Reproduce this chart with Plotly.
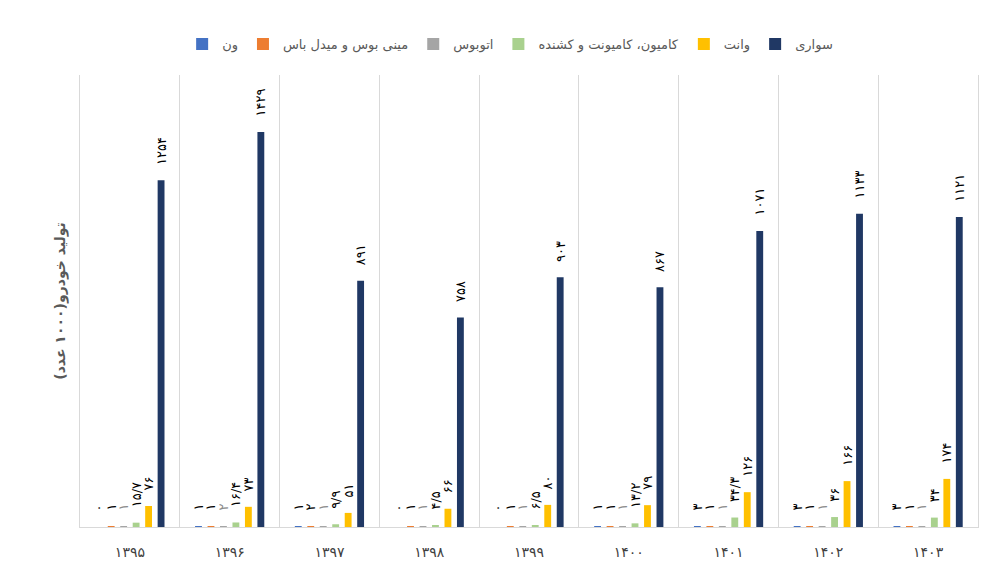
import plotly.graph_objects as go

years = ["1395", "1396", "1397", "1398", "1399", "1400", "1401", "1402", "1403"]

series_names = ["ون", "مینی بوس و میدل باس", "اتوبوس", "کامیون، کامیونت و کشنده", "وانت", "سواری"]
van = [0, 1, 1, 0, 0, 1, 3, 3, 3]
minibus = [1, 1, 2, 1, 1, 1, 1, 1, 1]
bus = [1, 2, 1, 1, 1, 1, 1, 1, 1]
truck = [15.7, 16.4, 9.9, 4.5, 6.5, 13.2, 34.3, 36, 34]
pickup = [76, 73, 51, 66, 80, 79, 126, 166, 174]
car = [1254, 1429, 891, 758, 903, 867, 1071, 1133, 1121]

colors = ["#4472C4", "#ED7D31", "#A5A5A5", "#A9D18E", "#FFC000", "#203864"]
label_colors = ["#000000", "#000000", "#8C8C8C", "#000000", "#000000", "#000000"]

FA = str.maketrans("0123456789.", "۰۱۲۳۴۵۶۷۸۹/")
PAD = "\u00a0\u00a0\u00a0"


def fa(v):
    s = ("%g" % v)
    return s.translate(FA)


cats = [fa(int(y)) for y in years]

fig = go.Figure()
for name, vals, col, lcol in zip(series_names, [van, minibus, bus, truck, pickup, car], colors, label_colors):
    fig.add_trace(go.Bar(
        x=cats, y=vals, name=name,
        marker=dict(color=col, line=dict(width=0)),
        text=[PAD + fa(v) for v in vals],
        textposition="outside",
        textangle=-90,
        constraintext="none",
        textfont=dict(family="DejaVu Sans", size=13, color=lcol),
        cliponaxis=False,
    ))

fig.update_layout(
    width=986, height=568,
    paper_bgcolor="white", plot_bgcolor="white",
    barmode="group", bargap=0.25, bargroupgap=0.45,
    margin=dict(l=72, r=16, t=67, b=49, autoexpand=False),
    font=dict(family="DejaVu Sans", color="#404040"),
    legend=dict(orientation="h", x=0.479, xanchor="center", y=1.0686, yanchor="middle",
                font=dict(size=13, color="#595959"), traceorder="normal",
                itemwidth=30),
    showlegend=True,
)
fig.update_xaxes(
    tickson="boundaries", showgrid=True, gridcolor="#D9D9D9", gridwidth=1,
    showline=True, linecolor="#D9D9D9", linewidth=1, mirror=False, automargin=False,
    ticks="", tickfont=dict(size=14, color="#404040"), ticklabelstandoff=12,
)
fig.update_yaxes(
    range=[0, 1635], showgrid=False, showticklabels=False, zeroline=False, automargin=False,
    showline=True, linecolor="#D9D9D9", linewidth=1, mirror=True,
    title=dict(text="<b>تولید خودرو(۱۰۰۰ عدد)</b>", font=dict(size=14, color="#595959"), standoff=10),
)

fig.write_html("out.html")
